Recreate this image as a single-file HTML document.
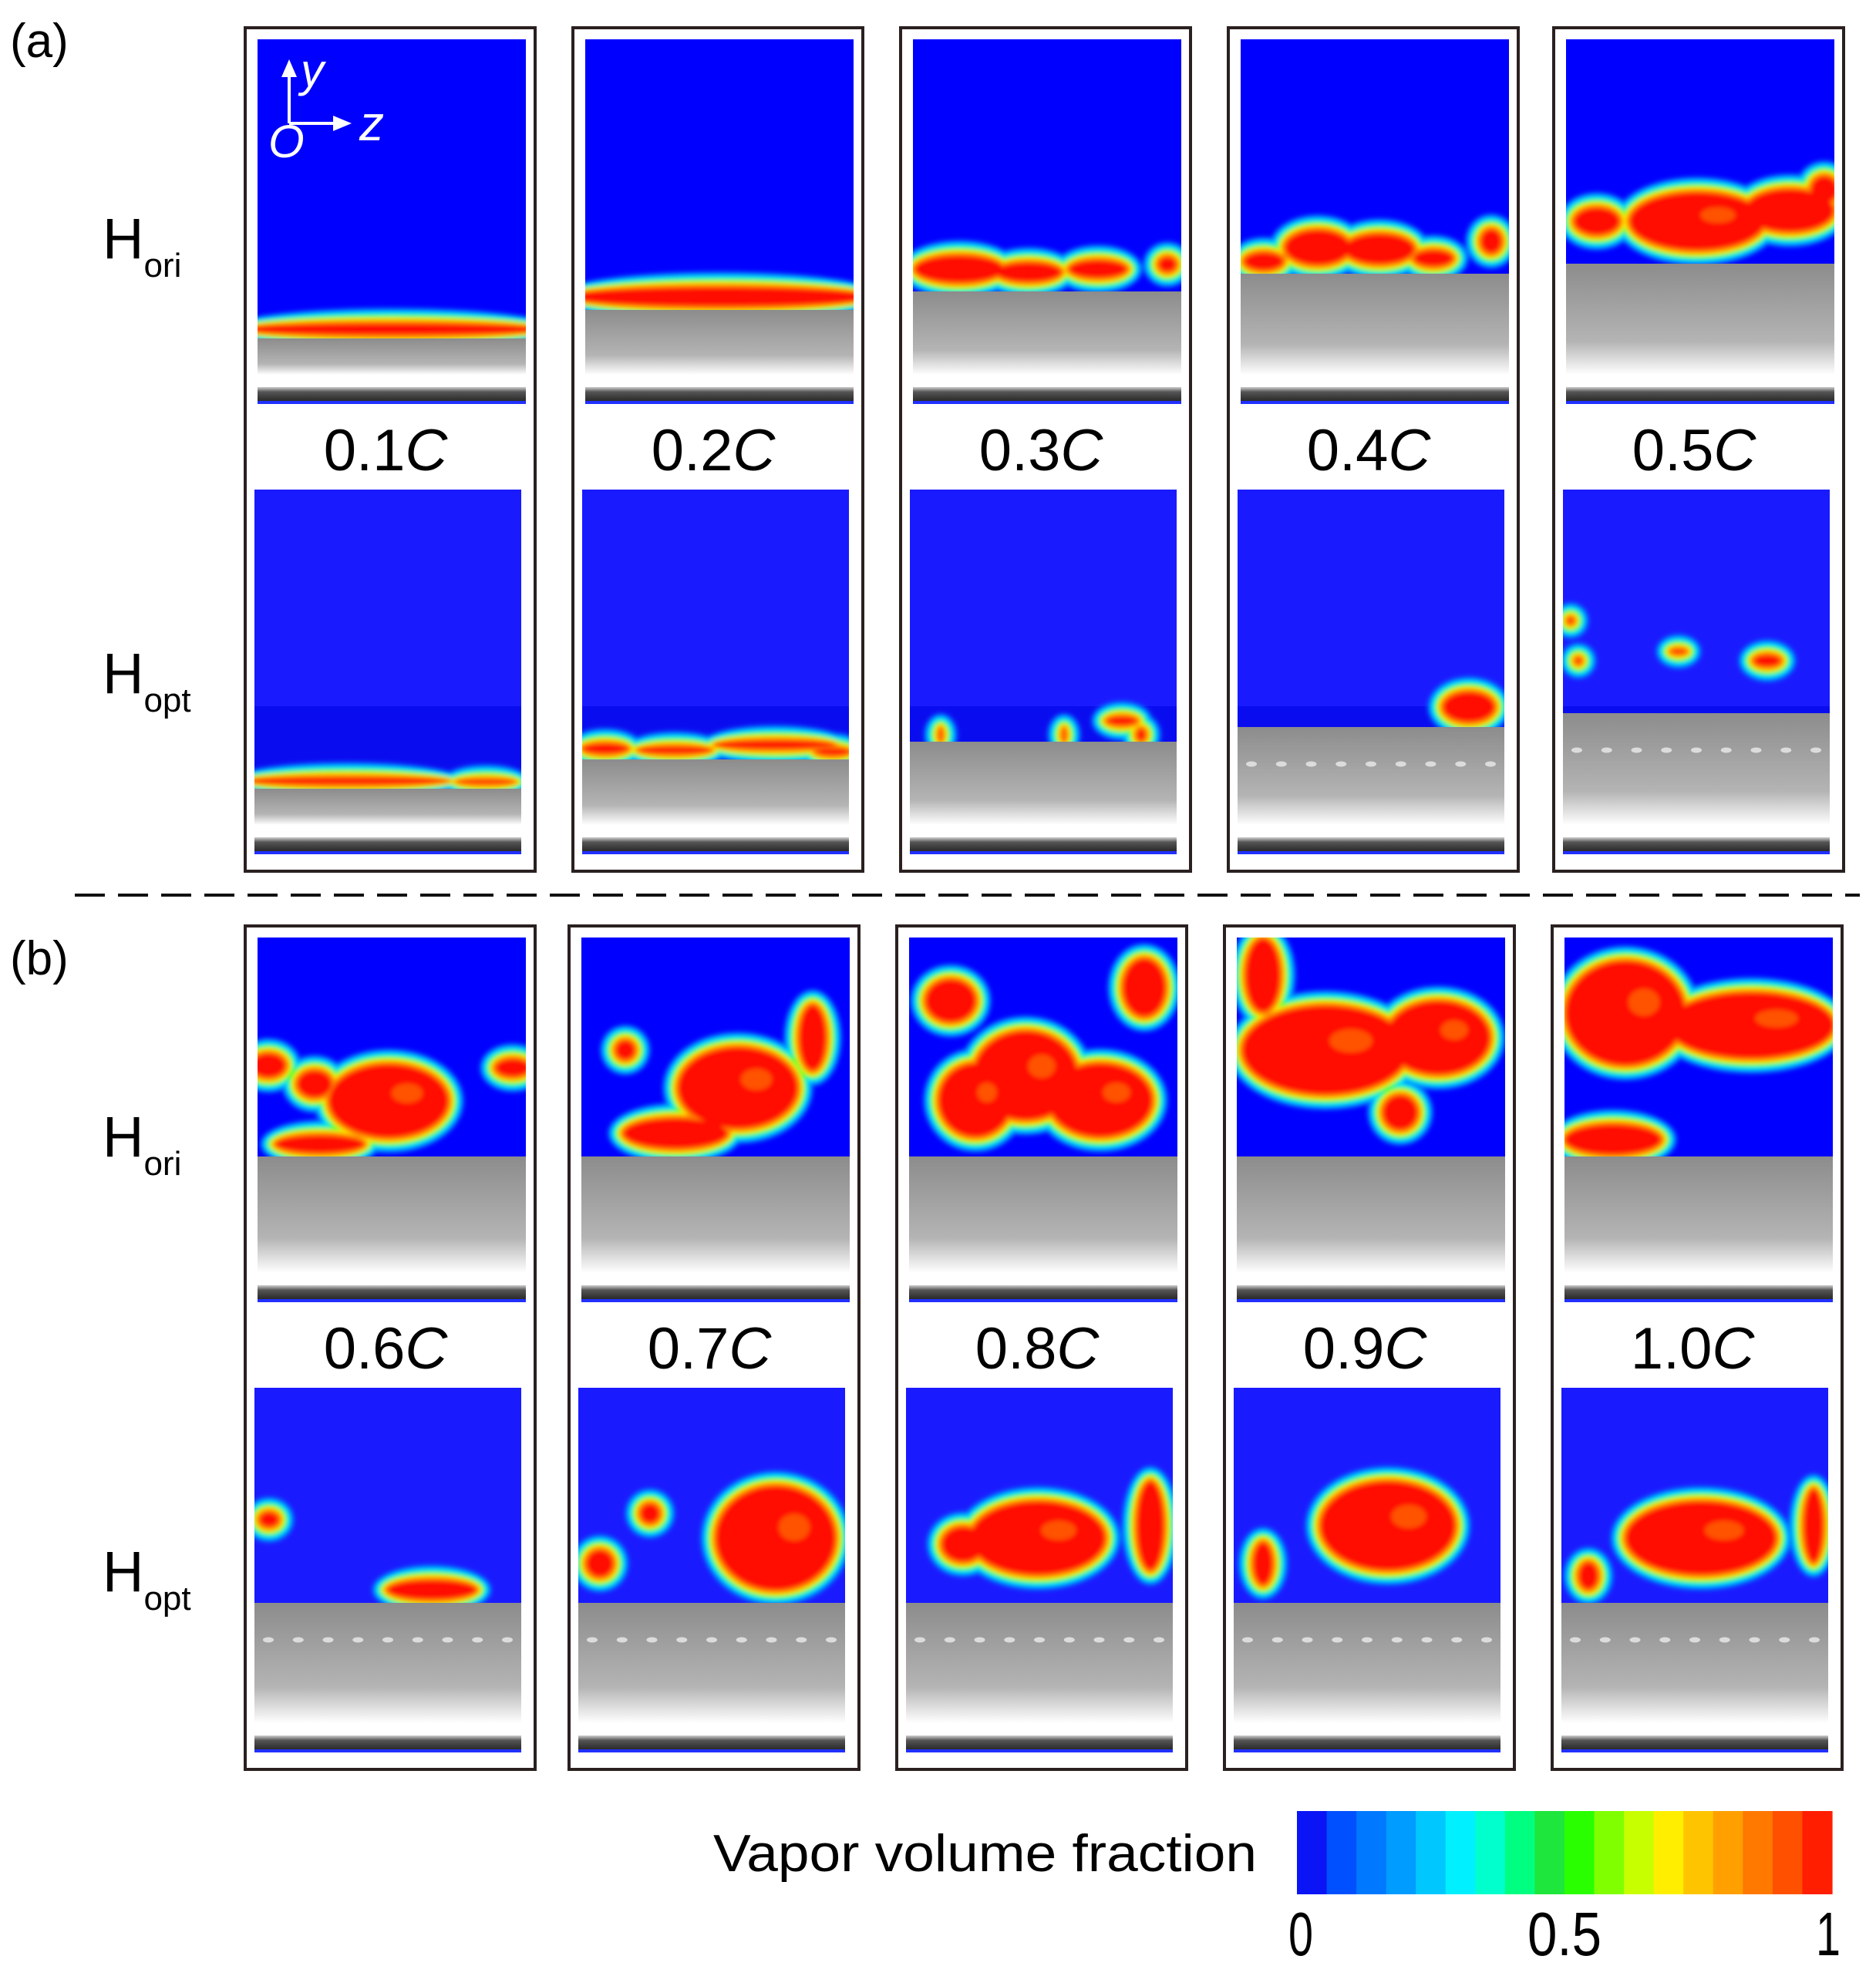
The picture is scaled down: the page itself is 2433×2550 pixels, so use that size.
<!DOCTYPE html>
<html><head><meta charset="utf-8"><style>
html,body{margin:0;padding:0;background:#fff;}
svg{display:block;}
text{font-family:"Liberation Sans",Arial,sans-serif;}
</style></head>
<body>
<svg id="fig" xmlns="http://www.w3.org/2000/svg" width="2433" height="2550" viewBox="0 0 2433 2550">
<defs>
  <filter id="blur" x="-10%" y="-10%" width="120%" height="120%"><feGaussianBlur stdDeviation="3"/></filter>
  <linearGradient id="gsub" x1="0" y1="0" x2="0" y2="1">
    <stop offset="0" stop-color="#8c8c8c"/><stop offset="0.7" stop-color="#b4b4b4"/><stop offset="1" stop-color="#ffffff"/>
  </linearGradient>
  <linearGradient id="gbar" x1="0" y1="0" x2="0" y2="1">
    <stop offset="0" stop-color="#d0d0d0"/><stop offset="0.35" stop-color="#555"/><stop offset="1" stop-color="#2a2a2a"/>
  </linearGradient>
</defs>
<text x="13" y="74" font-size="62">(a)</text>
<text x="13" y="1264" font-size="62">(b)</text>
<line x1="97" y1="1161" x2="2412" y2="1161" stroke="#111" stroke-width="4" stroke-dasharray="39 17"/>
<g id="panels"></g>
<g id="cbar"></g>
<text x="925" y="2427" font-size="68" textLength="705" lengthAdjust="spacingAndGlyphs">Vapor volume fraction</text>
</svg>
<script>
// colorbar data
const cbColors = ['#0a14f5','#0050ff','#0078ff','#009cff','#00c8ff','#00f0ff','#00ffcc','#00ff80','#1ee63c','#2aff00','#80ff00','#c8ff00','#ffee00','#ffc400','#ffa000','#ff7800','#ff5000','#ff1e00'];
const cbTicks = [0, 0.5, 1];
const cbTickLabels = ['0','0.5','1'];

// time labels
const timesA = ['0.1','0.2','0.3','0.4','0.5'];
const timesB = ['0.6','0.7','0.8','0.9','1.0'];
// substrate top (local y within image, image height 473)
const subHoriA = [388, 351, 327, 304, 291];
const subHoptA = [388, 350, 327, 308, 290];
const subHoriB = [284, 284, 284, 284, 284];
const subHoptB = [279, 279, 279, 279, 279];
// vapor blobs [cx, cy, rx, ry]
const blobsHoriA = [
 [[174,376,200,10]],
 [[174,334,200,15]],
 [[60,298,60,20],[150,302,45,15],[240,298,40,14],[330,292,14,12]],
 [[30,288,28,14],[100,270,45,25],[180,272,48,22],[250,284,28,13],[325,262,16,18]],
 [[40,236,32,20],[170,236,90,40],[290,222,60,30],[335,195,20,20]]
];
const blobsHoptA = [
 [[120,378,135,7],[300,379,40,5]],
 [[30,336,32,9],[120,338,50,7],[250,331,80,8],[325,340,25,7]],
 [[275,300,22,8],[40,318,4,10],[200,318,4,10],[300,318,8,10]],
 [[300,282,36,22]],
 [[10,170,6,6],[20,222,6,6],[150,210,12,5],[265,222,20,10]]
];
const blobsHoriB = [
 [[170,212,80,50],[14,166,25,18],[81,268,60,14],[331,169,25,14],[74,190,25,20]],
 [[203,195,80,55],[300,130,20,45],[122,254,70,22],[57,146,15,15]],
 [[54,82,35,30],[151,179,70,60],[86,211,50,50],[305,65,30,40],[248,211,70,50]],
 [[115,146,110,60],[261,130,70,50],[34,49,25,50],[212,227,25,25]],
 [[79,98,80,70],[242,114,110,45],[63,262,65,22]]
];
const blobsHoptB = [
 [[230,262,60,15],[19,171,15,12]],
 [[256,195,80,70],[28,228,20,20],[93,163,15,15]],
 [[171,195,90,50],[74,203,30,25],[317,179,20,60]],
 [[200,179,90,60],[38,228,15,30]],
 [[181,195,100,50],[327,179,15,50],[35,244,15,20]]
];
const boxLeftA = [318, 743, 1168, 1593, 2015];
const boxLeftB = [318, 738, 1163, 1588, 2013];

const NS = 'http://www.w3.org/2000/svg';
function mk(tag, attrs, parent){
  const e = document.createElementNS(NS, tag);
  for (const k in attrs) e.setAttribute(k, attrs[k]);
  if (parent) parent.appendChild(e);
  return e;
}
let clipId = 0;
const layers = [['#0070ff',18],['#00e0ff',13],['#30ff30',9],['#ffee00',5],['#ff8000',2],['#ff1000',-3]];
function drawImage(g, x, y, w, sub, blobs, blue, dark, dots){
  const img = mk('g', {}, g);
  
  
  mk('rect', {x:x, y:y, width:w, height:sub, fill:blue}, img);
  if (dark && sub > 281) mk('rect', {x:x, y:y+281, width:w, height:sub-281, fill:'#0a0cf0'}, img);
  const id = 'c' + (clipId++);
  const cp = mk('clipPath', {id:id}, img);
  mk('rect', {x:x, y:y, width:w, height:sub}, cp);
  const bg = mk('g', {'clip-path':'url(#'+id+')'}, img);
  const bf = mk('g', {filter:'url(#blur)'}, bg);
  layers.forEach(([c, d]) => {
    blobs.forEach(b => {
      const el = mk('ellipse', {cx:x+b[0], cy:y+b[1], rx:Math.max(1,b[2]+d), ry:Math.max(1,b[3]+d), fill:c}, bf);
      
      
    });
  });
  // inner mottling: orange spots in large blobs
  blobs.forEach(b => {
    if (b[2] > 40 && b[3] > 30) {
      const sp = mk('ellipse', {cx:x+b[0]+b[2]*0.3, cy:y+b[1]-b[3]*0.2, rx:b[2]*0.25, ry:b[3]*0.25, fill:'#ff7000', opacity:0.7}, bf);
      
      
    }
  });
  const s = mk('rect', {x:x, y:y+sub, width:w, height:435-sub, fill:'url(#gsub)'}, img);
  
  
  if (dots) {
    for (let i = 0; i < 9; i++) mk('ellipse', {cx:x+18+i*38.75, cy:y+sub+48, rx:7, ry:3.5, fill:'#dcdcdc'}, img);
  }
  mk('rect', {x:x, y:y+451, width:w, height:18, fill:'url(#gbar)'}, img);
  mk('rect', {x:x, y:y+469, width:w, height:4, fill:'#2030ff'}, img);
}
const panels = document.getElementById('panels');
function drawRow(lefts, top, times, subH, subO, bH, bO, dotsArr){
  lefts.forEach((L, i) => {
    const g = mk('g', {}, panels);
    
    
    const box = mk('rect', {x:L, y:top, width:376, height:1094, fill:'#fff', stroke:'#2a2020', 'stroke-width':4}, g);
    
    
    drawImage(g, L+16, top+15, 348, subH[i], bH[i], '#0000ff', false, false);
    drawImage(g, L+12, top+599, 346, subO[i], bO[i], '#1a1aff', true, dotsArr[i]);
    const t = mk('text', {x:L+182, y:top+574, 'font-size':76, 'text-anchor':'middle'}, g);
    
    
    t.textContent = times[i];
    const it = mk('tspan', {'font-style':'italic'}, t);
    it.textContent = 'C';
  });
}
drawRow(boxLeftA, 36, timesA, subHoriA, subHoptA, blobsHoriA, blobsHoptA, [false,false,false,true,true]);
drawRow(boxLeftB, 1201, timesB, subHoriB, subHoptB, blobsHoriB, blobsHoptB, [true,true,true,true,true]);

// row labels
[[308,'ori'],[872,'opt'],[1473,'ori'],[2037,'opt']].forEach(([yy, sub]) => {
  const t = mk('text', {x:133, y:yy+27, 'font-size':74}, document.getElementById('fig'));
  
  
  t.textContent = 'H';
  const s = mk('tspan', {'font-size':44, dy:24}, t);
  s.textContent = sub;
});

// axis icon
const ax = mk('g', {fill:'#fff', stroke:'#fff'}, document.getElementById('fig'));


mk('line', {x1:375, y1:160, x2:375, y2:90, 'stroke-width':4}, ax);
mk('polygon', {points:'375,77 365,100 385,100', stroke:'none'}, ax);
mk('line', {x1:375, y1:160, x2:440, y2:160, 'stroke-width':4}, ax);
mk('polygon', {points:'456,160 432,150 432,170', stroke:'none'}, ax);
[['y',390,112,60],['z',466,182,64],['O',348,204,60]].forEach(([c, x, y, fs]) => {
  const t = mk('text', {x:x, y:y, 'font-size':fs, 'font-style':'italic', stroke:'none'}, ax);
  t.textContent = c;
});

// colorbar
const cb = document.getElementById('cbar');
const cbX0 = 1682, cbX1 = 2376, cbY = 2349, cbH = 108;
const bw = (cbX1 - cbX0) / cbColors.length;
cbColors.forEach((c, i) => {
  const r = mk('rect', {x:cbX0 + i*bw, y:cbY, width:bw+0.6, height:cbH, fill:c}, cb);
  
  
});
function cbScale(v){ return cbX0 + 5 + v * (cbX1 - cbX0 - 10); }
cbTicks.forEach((v, i) => {
  const t = mk('text', {x:cbScale(v), y:2536, 'font-size':80, 'text-anchor':'middle', textLength: cbTickLabels[i].length*32, lengthAdjust:'spacingAndGlyphs'}, cb);
  
  
  t.textContent = cbTickLabels[i];
});
</script>
</body></html>
